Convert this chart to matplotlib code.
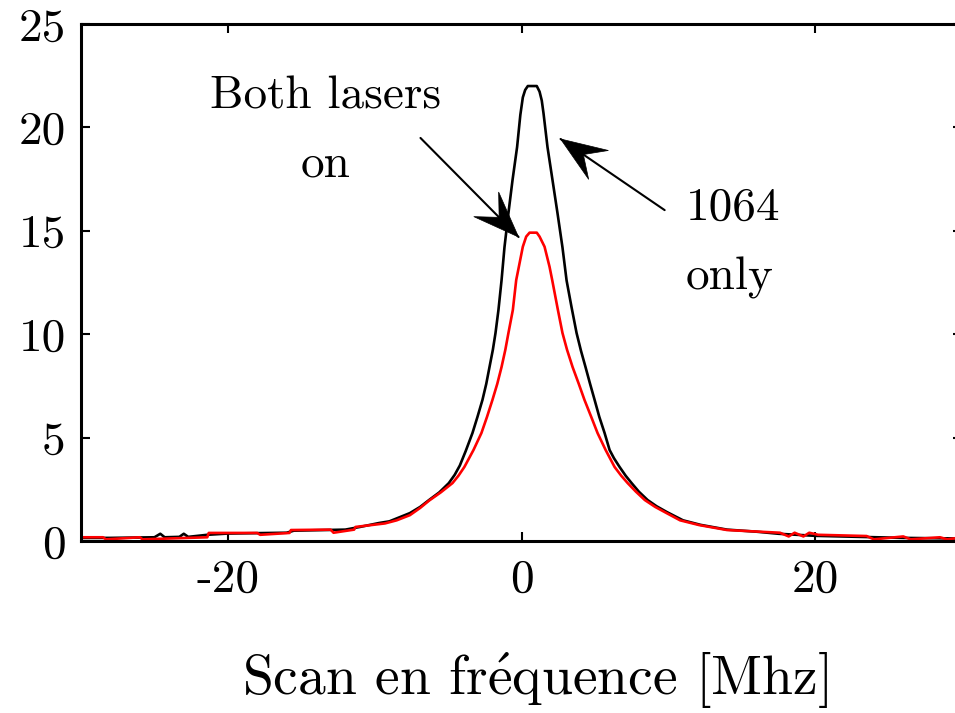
import numpy as np
import matplotlib
matplotlib.use("Agg")
import matplotlib.pyplot as plt
from matplotlib.patches import Polygon

plt.rcParams['font.family'] = ['cmr10', 'DejaVu Serif']
plt.rcParams['mathtext.fontset'] = 'cm'
plt.rcParams['axes.formatter.use_mathtext'] = True

# ---- data ----
x_1064 = [-30.0, -28.0, -25.0, -24.6, -24.3, -23.3, -23.0, -22.7, -21.4, -20.0,
          -16.0, -15.5, -12.0, -11.0, -9.7, -9.0, -7.6, -6.9, -6.3, -5.6,
          -4.95, -4.55, -4.2, -3.8, -3.34, -3.0, -2.66, -2.4, -2.18, -1.95,
          -1.77, -1.57, -1.36, -1.16, -0.89, -0.61, -0.3, -0.08, 0.09, 0.25,
          0.43, 1.04, 1.23, 1.38, 1.5, 1.77, 2.11, 2.45, 2.79, 3.07,
          3.41, 3.75, 4.05, 4.36, 4.67, 4.98, 5.3, 5.66, 6.0, 6.3,
          6.68, 7.1, 7.5, 8.0, 8.59, 9.2, 9.9, 11.0, 12.2, 14.0,
          16.0, 17.5, 20.0, 23.0, 26.0, 30.0]
y_1064 = [0.15, 0.15, 0.18, 0.35, 0.18, 0.2, 0.35, 0.2, 0.3, 0.36,
          0.4, 0.5, 0.55, 0.68, 0.87, 0.95, 1.35, 1.65, 1.98, 2.35,
          2.80, 3.2, 3.65, 4.35, 5.22, 6.0, 6.82, 7.6, 8.41, 9.25,
          10.06, 11.17, 12.6, 14.2, 15.86, 17.46, 19.05, 20.6, 21.45, 21.81,
          22.0, 22.0, 21.73, 21.3, 20.68, 19.05, 17.46, 15.86, 14.2, 12.6,
          11.3, 10.06, 9.2, 8.41, 7.6, 6.82, 6.0, 5.22, 4.40, 4.0,
          3.58, 3.15, 2.80, 2.38, 1.98, 1.68, 1.40, 1.0, 0.78, 0.55,
          0.45, 0.35, 0.25, 0.2, 0.15, 0.12]

x_both = [-30.0, -28.5, -28.3, -26.0, -25.8, -21.4, -21.3, -18.0, -17.8, -15.8,
          -15.7, -13.0, -12.8, -11.4, -11.3, -9.3, -8.5, -7.6, -6.9, -6.3,
          -5.5, -4.7, -4.3, -3.89, -3.27, -2.73, -2.35, -1.98, -1.65, -1.36,
          -1.1, -0.89, -0.59, -0.36, -0.18, 0.09, 0.32, 0.55, 1.04, 1.23,
          1.57, 1.91, 2.09, 2.48, 2.79, 3.1, 3.48, 3.9, 4.29, 4.75,
          5.18, 5.73, 6.34, 6.8, 7.23, 7.8, 8.4, 9.1, 9.88, 10.8,
          12.1, 14.0, 17.6, 18.2, 18.6, 19.2, 19.6, 20.2, 23.5, 24.0,
          26.0, 26.5, 28.5, 29.0, 30.0]
y_both = [0.18, 0.18, 0.08, 0.18, 0.08, 0.18, 0.39, 0.39, 0.3, 0.39,
          0.53, 0.55, 0.4, 0.55, 0.68, 0.85, 1.0, 1.25, 1.6, 1.95,
          2.35, 2.80, 3.15, 3.58, 4.40, 5.22, 6.0, 6.82, 7.6, 8.41,
          9.25, 10.06, 11.17, 12.62, 13.26, 14.23, 14.72, 14.91, 14.91, 14.72,
          14.23, 13.26, 12.62, 11.17, 10.06, 9.25, 8.41, 7.6, 6.82, 6.0,
          5.22, 4.40, 3.58, 3.15, 2.80, 2.38, 1.98, 1.65, 1.35, 1.0,
          0.77, 0.53, 0.40, 0.22, 0.40, 0.22, 0.40, 0.30, 0.24, 0.08,
          0.22, 0.08, 0.18, 0.08, 0.18]

x_ticks = [-20, 0, 20]
x_tick_labels = ['-20', '0', '20']
y_ticks = [0, 5, 10, 15, 20, 25]
y_tick_labels = ['0', '5', '10', '15', '20', '25']

fig = plt.figure(figsize=(9.55, 7.13), dpi=100)
ax = fig.add_axes([81/955, 172/713, 881/955, 517/713])

ax.plot(x_1064, y_1064, color='black', lw=1.9)
ax.plot(x_both, y_both, color='red', lw=1.9)

ax.set_xlim(-30, 30)
ax.set_ylim(0, 25)
ax.set_xticks(x_ticks)
ax.set_xticklabels(x_tick_labels)
ax.set_yticks(y_ticks)
ax.set_yticklabels(y_tick_labels)
ax.tick_params(direction='in', length=6.5, width=1.5, labelsize=34,
               top=True, right=True)
ax.tick_params(axis='x', pad=13)
ax.tick_params(axis='y', pad=11)
for s in ax.spines.values():
    s.set_linewidth(2.2)

ax.set_xlabel(r'Scan en fr$\mathrm{\acute{e}}$quence [Mhz]', fontsize=40)
ax.xaxis.set_label_coords(0.515, -0.212)

ax.text(-13.36, 21.47, 'Both lasers', fontsize=34, ha='center', va='center')
ax.text(-13.36, 18.18, 'on', fontsize=34, ha='center', va='center')
ax.text(11.18, 16.1, '1064', fontsize=34, ha='left', va='center')
ax.text(11.18, 12.72, 'only', fontsize=34, ha='left', va='center')


def concave_arrow(tail, tip, head_len=46, half_w=17.5, indent=0.6, lw=1.5):
    ax.annotate('', xy=tip, xytext=tail,
                arrowprops=dict(arrowstyle='-', color='black', lw=lw,
                                shrinkA=0, shrinkB=0))
    t = ax.transData.transform(tail)
    p = ax.transData.transform(tip)
    d = p - t
    u = d / np.hypot(*d)
    n = np.array([-u[1], u[0]])
    base = p - u * head_len
    pts = [p, base + n * half_w, p - u * head_len * indent, base - n * half_w]
    poly = Polygon(pts, closed=True, facecolor='black', edgecolor='black',
                   lw=0.5, transform=None)
    fig.add_artist(poly)


concave_arrow((-6.88, 19.49), (-0.2, 14.70))
concave_arrow((9.75, 16.0), (2.66, 19.44))

fig.savefig('out.png', dpi=100)
